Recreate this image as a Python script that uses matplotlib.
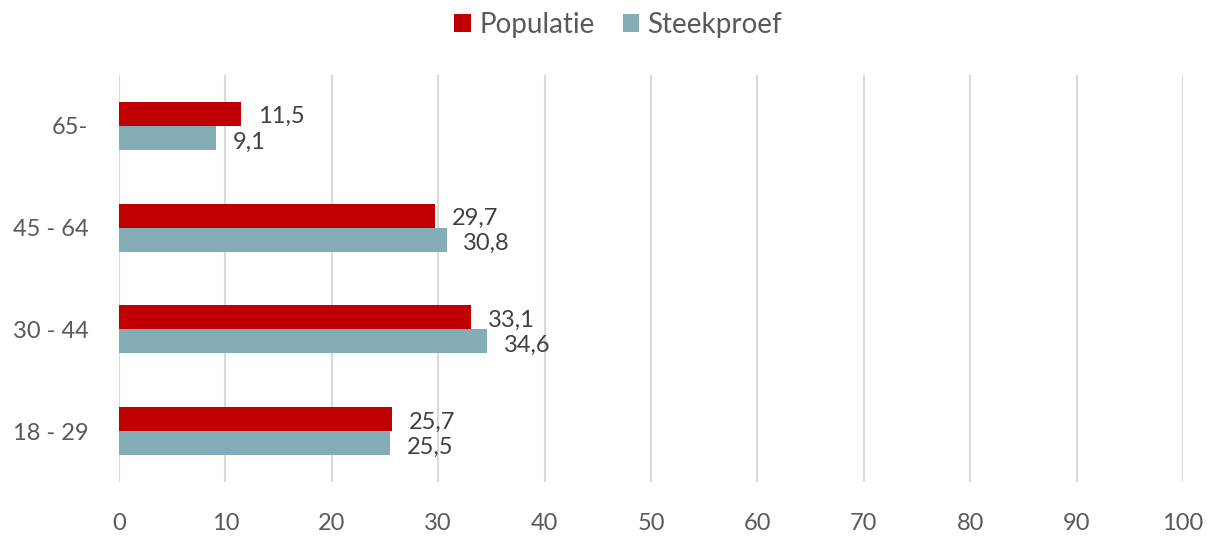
import numpy as np
import matplotlib
matplotlib.use('Agg')
from matplotlib import pyplot as plt

categories = ["18 - 29", "30 - 44", "45 - 64", "65-"]
populatie = [25.7, 33.1, 29.7, 11.5]
steekproef = [25.5, 34.6, 30.8, 9.1]
pop_labels = ["25,7", "33,1", "29,7", "11,5"]
stk_labels = ["25,5", "34,6", "30,8", "9,1"]

plt.rcParams['font.family'] = ['Lato', 'DejaVu Sans']
txt = '#595959'
red = '#C00000'
blue = '#84ACB6'

fig = plt.figure(figsize=(12.1, 5.37), dpi=100)
ax = fig.add_axes([0.0983, 0.1024, 0.8794, 0.7579])

y = np.arange(len(categories))
h = 0.236
ax.barh(y + h / 2, populatie, height=h, color=red, label="Populatie", zorder=3)
ax.barh(y - h / 2, steekproef, height=h, color=blue, label="Steekproef", zorder=3)

for i in range(len(categories)):
    ax.annotate(pop_labels[i], (populatie[i], y[i] + h / 2), xytext=(12, -2),
                textcoords='offset points', va='center', ha='left', fontsize=17, color='#404040')
    ax.annotate(stk_labels[i], (steekproef[i], y[i] - h / 2), xytext=(12, -3),
                textcoords='offset points', va='center', ha='left', fontsize=17, color='#404040')

ax.set_xlim(0, 100)
ax.set_ylim(-0.5, 3.5)
ax.set_xticks(range(0, 101, 10))
ax.set_yticks(y)
ax.set_yticklabels(categories)
ax.grid(axis='x', color='#D9D9D9', linewidth=1.5, zorder=0)
ax.tick_params(axis='both', length=0, labelsize=17, labelcolor=txt)
ax.tick_params(axis='x', pad=22)
ax.tick_params(axis='y', pad=22)
for s in ax.spines.values():
    s.set_visible(False)

leg = fig.legend(loc='upper center', bbox_to_anchor=(0.511, 1.025), ncol=2, frameon=False,
                 fontsize=20, handlelength=0.6, handleheight=0.6, handletextpad=0.3,
                 columnspacing=1.0)
for t in leg.get_texts():
    t.set_color(txt)

plt.savefig('out.png', dpi=100)
